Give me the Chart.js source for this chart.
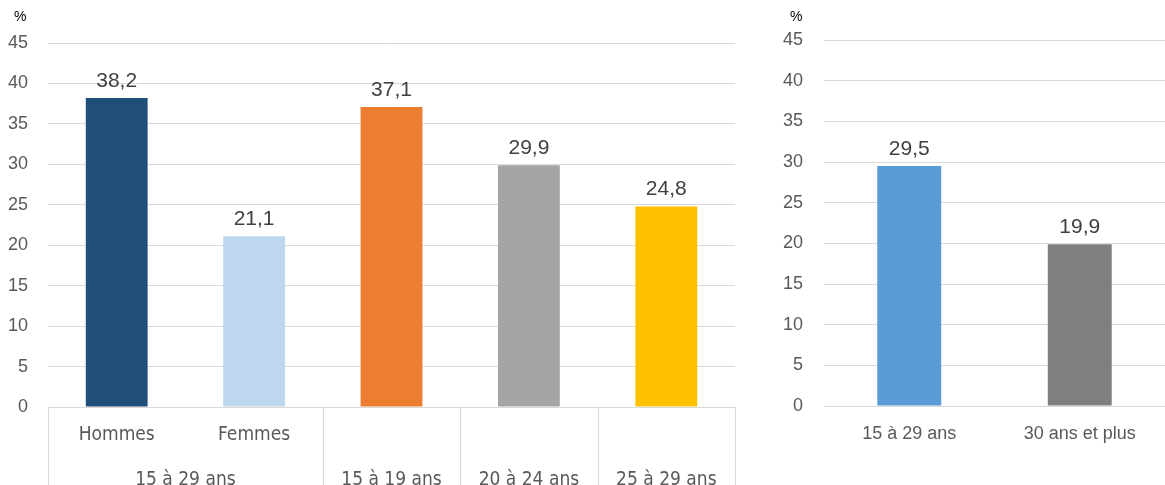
<!DOCTYPE html>
<html lang="fr">
<head>
<meta charset="utf-8">
<script src="https://cdn.jsdelivr.net/npm/chart.js@4.4.1/dist/chart.umd.min.js"></script>
<style>
  body { margin: 0; background: #fff; width: 1165px; height: 485px; overflow: hidden; position: relative; font-family: "Liberation Sans", sans-serif; }
  canvas { position: absolute; top: 0; }
  #ageChart { left: 0; }
  #trancheChart { left: 745px; }
  .unite { position: absolute; top: 8px; font-size: 14px; color: #000; }
</style>
</head>
<body>
<canvas id="ageChart" width="745" height="485"></canvas>
<canvas id="trancheChart" width="420" height="485"></canvas>
<div class="unite" style="left:14px">%</div>
<div class="unite" style="left:790px">%</div>
<script>
// Données du graphique de gauche (jeunes)
const sousCategories = ['Hommes', 'Femmes', '', '', ''];
const groupes = ['15 à 29 ans', '15 à 29 ans', '15 à 19 ans', '20 à 24 ans', '25 à 29 ans'];
const tauxJeunes = [38.2, 21.1, 37.1, 29.9, 24.8];
const couleursJeunes = ['#1F4E79', '#BDD7EE', '#ED7D31', '#A5A5A5', '#FFC000'];

// Données du graphique de droite
const categoriesAge = ['15 à 29 ans', '30 ans et plus'];
const tauxAge = [29.5, 19.9];
const couleursAge = ['#5B9BD5', '#7F7F7F'];

// Axe des valeurs (%)
const yMax = 45;
const yPas = 5;

const grille = '#D9D9D9';
const texteAxe = '#595959';
const policeEtroite = '"Liberation Sans Narrow", "DejaVu Sans Condensed", sans-serif';

// Étiquettes de valeur au-dessus des barres
const etiquettes = {
    id: 'etiquettes',
    afterDatasetsDraw(chart) {
        const ctx = chart.ctx;
        const meta = chart.getDatasetMeta(0);
        ctx.save();
        ctx.font = '21px "Liberation Sans", sans-serif';
        ctx.fillStyle = '#404040';
        ctx.textAlign = 'center';
        ctx.textBaseline = 'alphabetic';
        meta.data.forEach((bar, i) => {
            const v = chart.data.datasets[0].data[i];
            ctx.fillText(v.toFixed(1).replace('.', ','), bar.x, bar.y - 11);
        });
        ctx.restore();
    }
};

// Deuxième niveau de l'axe des catégories (groupes d'âge) + séparateurs
const groupesAxe = {
    id: 'groupesAxe',
    afterDraw(chart) {
        const ctx = chart.ctx;
        const x = chart.scales.x;
        const pas = x.width / groupes.length;
        const bas = chart.chartArea.bottom;
        ctx.save();
        ctx.strokeStyle = grille;
        ctx.lineWidth = 1;
        ctx.font = '19px ' + policeEtroite;
        ctx.fillStyle = texteAxe;
        ctx.textAlign = 'center';
        ctx.textBaseline = 'middle';
        let debut = 0;
        for (let i = 1; i <= groupes.length; i++) {
            if (i === groupes.length || groupes[i] !== groupes[debut]) {
                const g = x.getPixelForValue(debut) - pas / 2;
                const d = x.getPixelForValue(i - 1) + pas / 2;
                ctx.fillText(groupes[debut], (g + d) / 2, 480);
                [g, d].forEach(px => {
                    const xx = Math.round(px) + 0.5;
                    ctx.beginPath();
                    ctx.moveTo(xx, bas);
                    ctx.lineTo(xx, chart.height);
                    ctx.stroke();
                });
                debut = i;
            }
        }
        ctx.restore();
    }
};

function axeY(largeur, padding) {
    return {
        min: 0,
        max: yMax,
        ticks: {
            stepSize: yPas,
            padding: padding,
            color: texteAxe,
            font: { family: '"Liberation Sans", sans-serif', size: 18 }
        },
        grid: { color: grille, drawTicks: false },
        border: { display: false },
        afterFit: s => { s.width = largeur; }
    };
}

new Chart(document.getElementById('ageChart').getContext('2d'), {
    type: 'bar',
    data: {
        labels: sousCategories,
        datasets: [{
            data: tauxJeunes,
            backgroundColor: couleursJeunes,
            categoryPercentage: 1,
            barPercentage: 0.45
        }]
    },
    options: {
        responsive: false,
        animation: false,
        layout: { padding: { top: 43, right: 10, bottom: 0, left: 0 } },
        plugins: { legend: { display: false }, tooltip: { enabled: false } },
        scales: {
            x: {
                grid: { display: false },
                border: { display: false },
                ticks: {
                    padding: 9,
                    color: texteAxe,
                    font: { family: policeEtroite, size: 19 }
                },
                afterFit: s => { s.height = 78; }
            },
            y: axeY(48, 20)
        }
    },
    plugins: [etiquettes, groupesAxe]
});

new Chart(document.getElementById('trancheChart').getContext('2d'), {
    type: 'bar',
    data: {
        labels: categoriesAge,
        datasets: [{
            data: tauxAge,
            backgroundColor: couleursAge,
            categoryPercentage: 1,
            barPercentage: 0.375
        }]
    },
    options: {
        responsive: false,
        animation: false,
        layout: { padding: { top: 40, right: 0, bottom: 0, left: 0 } },
        plugins: { legend: { display: false }, tooltip: { enabled: false } },
        scales: {
            x: {
                grid: { display: false },
                border: { display: false },
                ticks: {
                    padding: 9,
                    color: texteAxe,
                    font: { family: '"Liberation Sans", sans-serif', size: 18 }
                },
                afterFit: s => { s.height = 79; }
            },
            y: axeY(79, 21)
        }
    },
    plugins: [etiquettes]
});
</script>
</body>
</html>
